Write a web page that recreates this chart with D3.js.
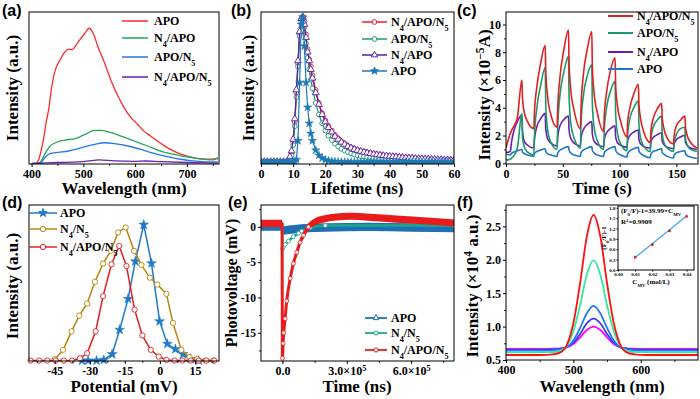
<!DOCTYPE html>
<html><head><meta charset="utf-8">
<script src="https://cdn.jsdelivr.net/npm/d3@7"></script>
<style>body{margin:0;background:#fff}svg{display:block}</style>
</head><body>
<svg id="chart" width="700" height="399"></svg>
<script>
// ---------- (a) PL spectra ----------
const aWlRed = [400,408,414,418,423,428,433,439,446,455,465,471,478,484,493,503,511,519,528,541,554,567,579,592,605,617,630,643,662,681,700,719,738,760];
const aRed   = [2,4,30,90,179,300,400,571,694,767,828,846,841,866,914,963,1000,963,865,743,608,498,412,339,289,240,203,167,118,81,56,39,32,37];
const aWlGreen = [400,415,420,427,436,446,465,484,503,522,535,554,573,598,624,649,675,700,725,751,760];
const aGreen   = [0,5,30,81,130,154,174,184,216,245,245,228,203,167,130,93,69,49,37,27,44];
const aWlBlue = [400,418,423,433,446,471,497,522,541,560,586,611,636,662,687,713,738,760];
const aBlue   = [0,5,32,69,81,93,118,142,154,147,130,105,76,51,32,20,12,12];
const aWlPurple = [400,420,450,490,510,530,560,600,620,650,700,760];
const aPurple   = [0,3,8,12,20,27,20,17,19,14,8,4];
const aTicks = [400,500,600,700];
const aMinor = [450,550,650,750];

// ---------- (b) decay ----------
const bT = [0,1,2,3,4,5,6,7,8,9,9.5,10,10.5,11,11.5,12,12.5,13,13.5,14,14.5,15,15.5,16,
  17,18,19,20,21,22,23,24,25,26,27,28,29,30,31,32,33,34,35,36,37,38,39,40,41,42,43,44,45,46,47,48,49,50,51,52,53,54,55,56,57,58,59,60];
const bRed = [0.005,0.005,0.005,0.005,0.005,0.005,0.005,0.005,0.005,0.03,
  0.06,0.14,0.28,0.48,0.68,0.88,0.98,1.0,0.97,0.88,0.78,0.71,0.66,0.6,
  0.5,0.41,0.34,0.29,0.25,0.22,0.19,0.165,0.145,0.13,0.115,0.105,0.095,0.087,0.08,0.074,0.07,0.066,0.062,0.058,0.054,0.05,0.047,0.044,0.042,0.04,0.038,0.036,0.034,0.032,0.031,0.029,0.028,0.026,0.025,0.024,0.023,0.022,0.021,0.02,0.019,0.018,0.017,0.016];
const bGreen = [0.005,0.005,0.005,0.005,0.005,0.005,0.005,0.005,0.005,0.02,
  0.05,0.12,0.25,0.45,0.66,0.87,0.97,1.0,0.93,0.82,0.72,0.64,0.57,0.51,
  0.41,0.33,0.27,0.22,0.185,0.155,0.13,0.11,0.095,0.082,0.072,0.063,0.056,0.05,0.045,0.041,0.037,0.034,0.031,0.029,0.027,0.025,0.023,0.021,0.02,0.019,0.018,0.017,0.016,0.015,0.014,0.013,0.013,0.012,0.012,0.011,0.011,0.01,0.01,0.01,0.009,0.009,0.009,0.008];
const bPurple = [0.005,0.005,0.005,0.005,0.005,0.005,0.005,0.005,0.005,0.04,
  0.08,0.16,0.3,0.5,0.7,0.9,0.99,1.0,0.95,0.86,0.76,0.7,0.64,0.58,
  0.48,0.4,0.33,0.28,0.24,0.21,0.18,0.16,0.14,0.125,0.11,0.1,0.09,0.083,0.077,0.071,0.066,0.062,0.058,0.054,0.051,0.048,0.045,0.043,0.041,0.039,0.037,0.035,0.033,0.031,0.03,0.028,0.027,0.026,0.025,0.024,0.023,0.022,0.021,0.02,0.019,0.018,0.017,0.016];
const bBlue = [0.003,0.003,0.003,0.003,0.003,0.003,0.003,0.003,0.003,0.003,
  0.003,0.004,0.006,0.02,0.15,0.55,0.95,1.0,0.8,0.55,0.38,0.27,0.2,0.15,
  0.085,0.05,0.03,0.018,0.012,0.008,0.006,0.005,0.004,0.003,0.003,0.003,0.003,0.003,0.003,0.003,0.003,0.003,0.003,0.003,0.003,0.003,0.003,0.003,0.003,0.003,0.003,0.003,0.003,0.003,0.003,0.003,0.003,0.003,0.003,0.003,0.003,0.003,0.003,0.003,0.003,0.003,0.003,0.003];
const bTicks = [0,10,20,30,40,50,60];
const bMinor = [5,15,25,35,45,55];

// ---------- (c) photocurrent ----------
const cT = [0,2,
  4,4.5,6.5,10,14,14.5,16,19,
  24.5,25,27,30.5,34.5,35,36.5,39.5,
  45,45.5,47.5,51,55,55.5,57,60,
  65.5,66,68,71.5,75.5,76,77.5,80.5,
  86,86.5,88.5,92,96,96.5,98,101,
  106.5,107,109,112.5,116.5,117,118.5,121.5,
  127,127.5,129.5,133,137,137.5,139,142,
  147.5,148,150,153.5,157.5,158,159.5,162.5,
  168];
const cRed = [1.1,1.7,
  2.2,2.3,2.6,3.3,6.0,4.7,3.7,3.0,
  2.5,3.6,5.4,7.2,8.5,6.6,4.9,3.5,
  2.6,3.9,6.2,8.2,9.6,7.3,5.3,3.8,
  2.5,3.9,6.3,8.2,9.5,7.0,5.1,3.6,
  2.3,3.4,5.1,6.7,7.6,5.7,4.2,3.0,
  1.9,2.9,4.0,5.0,5.7,4.3,3.2,2.2,
  1.5,2.3,3.2,3.9,4.3,3.3,2.5,1.8,
  1.4,2.0,2.7,3.1,3.4,2.6,2.0,1.5,
  1.1];
const cGreen = [0.25,0.25,
  0.3,0.35,0.5,1.1,3.6,1.9,1.2,0.8,
  0.6,1.9,3.9,5.6,6.9,4.3,2.5,1.5,
  1.0,2.6,4.9,6.6,7.7,4.9,2.9,1.8,
  1.1,2.8,4.8,6.3,7.1,4.3,2.6,1.6,
  1.0,2.4,4.0,5.2,5.9,3.6,2.2,1.4,
  0.9,2.0,3.2,4.0,4.5,2.8,1.8,1.2,
  0.85,1.7,2.6,3.1,3.4,2.2,1.5,1.1,
  0.85,1.5,2.1,2.5,2.6,1.8,1.3,1.0,
  0.85];
const cPurple = [0.8,0.8,
  0.9,1.3,2.2,3.0,3.5,2.4,1.6,1.3,
  1.1,1.7,2.6,3.2,3.6,2.5,1.8,1.45,
  1.25,1.9,2.7,3.15,3.4,2.4,1.8,1.45,
  1.25,1.8,2.4,2.8,3.0,2.1,1.6,1.35,
  1.2,1.7,2.2,2.5,2.7,1.9,1.5,1.3,
  1.15,1.6,2.0,2.25,2.4,1.7,1.4,1.2,
  1.1,1.5,1.85,2.05,2.2,1.6,1.35,1.15,
  1.05,1.4,1.7,1.9,2.0,1.5,1.3,1.1,
  1.0];
const cBlue = [0.65,0.62,
  0.6,0.7,0.8,0.9,1.0,0.8,0.7,0.6,
  0.5,0.7,0.85,0.95,1.05,0.85,0.7,0.6,
  0.5,0.75,0.95,1.1,1.2,0.95,0.75,0.6,
  0.5,0.75,0.95,1.1,1.2,0.95,0.75,0.6,
  0.5,0.75,0.95,1.1,1.2,0.95,0.75,0.6,
  0.45,0.7,0.9,1.05,1.15,0.9,0.7,0.55,
  0.4,0.65,0.85,0.95,1.05,0.8,0.65,0.5,
  0.38,0.6,0.75,0.85,0.9,0.7,0.55,0.45,
  0.35];
const cXTicks = [0,50,100,150];
const cXMinor = [25,75,125];
const cYTicks = [0,2,4,6,8,10];
const cYMinor = [1,3,5,7,9];

// ---------- (d) zeta potential ----------
const dApo = [[-33.3,0],[-30.7,0],[-27.1,0],[-24.0,0.5],[-20.4,4.7],[-17.2,22.7],[-13.6,45.4],[-10.5,73],[-6.9,100],[-3.6,71.6],[-0.1,28.9],[3.2,12.3],[6.6,8.4],[9.9,4.7],[13.2,1.2],[16.6,0]];
const dN4N5 = [[-44.9,1],[-41.4,7.9],[-37.8,21.5],[-34.5,33.1],[-31.1,42],[-27.8,58],[-24.3,71.4],[-21.0,80.7],[-17.9,94.3],[-14.6,98],[-11.0,80.7],[-7.9,70.4],[-4.3,61],[-1.1,56],[2.8,49.1],[5.6,27.7],[9.2,7.9],[12.7,2.5],[16.0,1.2],[19.6,0],[23.0,0]];
const dTri = [[-55.3,0],[-51.7,0],[-48.2,0],[-44.6,0],[-41.1,0],[-37.6,0],[-34.2,1.7],[-31.1,5.4],[-27.5,21.5],[-24.3,47.4],[-20.7,70.9],[-17.4,84.4],[-14.3,69.6],[-10.8,37.5],[-7.5,18.5],[-3.9,7.9],[-0.5,3],[2.8,0.5],[6.3,0],[9.6,0],[13.2,0],[16.6,0],[19.9,0],[23.2,0]];
const dTicks = [-45,-30,-15,0,15];
const dMinor = [-52.5,-37.5,-22.5,-7.5,7.5,22.5];

// ---------- (e) transient photovoltage ----------
const eTRed = [-1e5,-5e4,-2e3,0,3e3,6e3,1.24e4,2e4,3.6e4,5.1e4,6.7e4,8.2e4,9.8e4,1.21e5,1.5e5,1.9e5,2.5e5,3.1e5,4.1e5,5.3e5,6.9e5,8e5];
const eRed  = [0.5,0.5,0.5,-18.6,-16.5,-15,-13,-10.5,-7.3,-5.2,-3.6,-2.2,-1.2,0,0.7,1.1,1.4,1.5,1.35,1.1,0.8,0.55];
const eTBlue = [-1e5,-2e3,0,3e4,1e5,2e5,4e5,6e5,8e5];
const eBlue  = [0.05,0.05,-0.5,-0.4,-0.2,-0.1,0,-0.1,-0.15];
const eTGreen = [-1e5,-2e3,0,5e3,1.24e4,2.8e4,5.1e4,7.5e4,9e4,1.3e5,2e5,8e5];
const eGreen  = [0.3,0.3,-3.1,-2.8,-2.5,-2.0,-1.4,-0.9,-0.6,-0.1,0.2,0.2];
const eXTicks = [0,3e5,6e5];
const eXMinor = [1.5e5,4.5e5,7.5e5];
const eYTicks = [0,-5,-10,-15];
const eYMinor = [2.5,-2.5,-7.5,-12.5,-17.5];

// ---------- (f) fluorescence quenching ----------
const fWl = [400,420,440,460,470,480,490,500,510,520,530,540,550,560,570,580,590,600,620,640,660,685];
const fRed     = [0.575,0.575,0.575,0.578,0.585,0.61,0.72,1.05,1.65,2.35,2.67,2.35,1.65,1.05,0.72,0.61,0.585,0.578,0.575,0.575,0.575,0.575];
const fGreen   = [0.615,0.615,0.615,0.617,0.62,0.635,0.71,0.93,1.32,1.78,1.99,1.78,1.32,0.93,0.71,0.635,0.62,0.617,0.615,0.615,0.615,0.615];
const fBlue    = [0.64,0.64,0.64,0.641,0.645,0.655,0.69,0.79,0.98,1.2,1.31,1.2,0.98,0.79,0.69,0.655,0.645,0.641,0.64,0.64,0.64,0.64];
const fIndigo  = [0.653,0.653,0.653,0.655,0.658,0.665,0.69,0.76,0.89,1.05,1.12,1.05,0.89,0.76,0.69,0.665,0.658,0.655,0.653,0.653,0.653,0.653];
const fMagenta = [0.665,0.665,0.665,0.667,0.67,0.675,0.69,0.74,0.84,0.95,1.0,0.95,0.84,0.74,0.69,0.675,0.67,0.667,0.665,0.665,0.665,0.665];
const fXTicks = [400,500,600];
const fXMinor = [450,550,650];
const fYTicks = [0.5,1.0,1.5,2.0,2.5];
const fYMinor = [0.75,1.25,1.75,2.25,2.75];
const inC = [0.01,0.02,0.03,0.04];
const inF = [0.37,0.73,1.13,1.55];
const inFitC = [0.01,0.04];
const inFitF = [0.36,1.56];
const inXTicks = [0,0.01,0.02,0.03,0.04];
const inYTicks = [0,0.3,0.6,0.9,1.2,1.5,1.8];

// ================= drawing =================
const SERIF = "'Liberation Serif','Times New Roman',Times,serif";
const SANS = "'Liberation Sans',Arial,Helvetica,sans-serif";
const svg = d3.select('#chart');
let clipN = 0;
const LFS = 12;

function addRich(sel, s, fs){
  const re = /([_^])\{([^}]*)\}/g; let last = 0, m;
  while ((m = re.exec(s))) {
    if (m.index > last) sel.append('tspan').text(s.slice(last, m.index));
    sel.append('tspan').attr('baseline-shift', m[1] === '_' ? 'sub' : 'super')
      .attr('font-size', fs * 0.68).text(m[2]);
    last = re.lastIndex;
  }
  if (last < s.length) sel.append('tspan').text(s.slice(last));
}
function styleAxis(a, fs){
  a.select('.domain').remove();
  a.selectAll('line').attr('stroke', '#000').attr('stroke-width', 1);
  a.selectAll('text').attr('font-family', SERIF).attr('font-weight', 'bold')
    .attr('font-size', fs).attr('fill', '#000');
}
function panel(o){
  const x = d3.scaleLinear().domain(o.xd).range([o.l, o.r]);
  const y = d3.scaleLinear().domain(o.yd).range([o.b, o.t]);
  const id = 'clip' + (++clipN);
  svg.append('clipPath').attr('id', id).append('rect')
    .attr('x', o.l).attr('y', o.t).attr('width', o.r - o.l).attr('height', o.b - o.t);
  const g = svg.append('g');
  const data = g.append('g').attr('clip-path', o.noclip ? null : `url(#${id})`);
  const fs = o.fs || 12, ts = o.ts || 3;
  if (o.xt) { const a = g.append('g').attr('transform', `translate(0,${o.b})`)
      .call(d3.axisBottom(x).tickValues(o.xt).tickSize(ts).tickPadding(o.xpad ?? 2).tickFormat(o.xf || (d => String(d))));
    styleAxis(a, fs); if (o.xpost) o.xpost(a); }
  if (o.xm) { const a = g.append('g').attr('transform', `translate(0,${o.b})`)
      .call(d3.axisBottom(x).tickValues(o.xm).tickSize(ts * 0.6).tickFormat(() => '')); styleAxis(a, fs); }
  if (o.yt) { const a = g.append('g').attr('transform', `translate(${o.l},0)`)
      .call(d3.axisLeft(y).tickValues(o.yt).tickSize(ts).tickPadding(o.ypad ?? 2).tickFormat(o.yf || (d => String(d))));
    styleAxis(a, o.yfs || fs); }
  if (o.ym) { const a = g.append('g').attr('transform', `translate(${o.l},0)`)
      .call(d3.axisLeft(y).tickValues(o.ym).tickSize(ts * 0.6).tickFormat(() => '')); styleAxis(a, fs); }
  g.append('rect').attr('x', o.l).attr('y', o.t).attr('width', o.r - o.l).attr('height', o.b - o.t)
    .attr('fill', 'none').attr('stroke', '#000').attr('stroke-width', o.sw || 1);
  const over = g.append('g');
  return { x, y, data, over, g };
}
function line(P, pts, color, w, curve){
  P.data.append('path').datum(pts)
    .attr('d', d3.line().x(d => P.x(d[0])).y(d => P.y(d[1])).curve(curve || d3.curveLinear))
    .attr('fill', 'none').attr('stroke', color).attr('stroke-width', w).attr('stroke-linejoin', 'round');
}
function marks(P, pts, type, color, size, fill, sw){
  P.data.append('g').selectAll('path').data(pts).join('path')
    .attr('transform', d => `translate(${P.x(d[0])},${P.y(d[1])})`)
    .attr('d', d3.symbol().type(type).size(size))
    .attr('fill', fill).attr('stroke', color).attr('stroke-width', sw ?? 0.9);
}
function legend(P, items, o){
  items.forEach((it, i) => {
    const yy = o.ys[i];
    P.over.append('line').attr('x1', o.x1).attr('x2', o.x2).attr('y1', yy).attr('y2', yy)
      .attr('stroke', it.c).attr('stroke-width', o.w || 1.5);
    if (it.m) P.over.append('path').attr('transform', `translate(${(o.x1 + o.x2) / 2},${yy})`)
      .attr('d', d3.symbol().type(it.m).size(o.ms || 22)).attr('fill', it.f || '#fff')
      .attr('stroke', it.c).attr('stroke-width', 1);
    const t = P.over.append('text').attr('x', o.tx).attr('y', yy + 4)
      .attr('font-family', SERIF).attr('font-weight', 'bold').attr('font-size', o.fs || LFS).attr('fill', '#000');
    addRich(t, it.label, o.fs || LFS);
  });
}
function title(x, y, s, fs, rot){
  const t = svg.append('text').attr('text-anchor', 'middle').attr('font-family', SERIF)
    .attr('font-weight', 'bold').attr('font-size', fs).attr('fill', '#000');
  if (rot) t.attr('transform', `translate(${x},${y}) rotate(-90)`); else t.attr('x', x).attr('y', y);
  addRich(t, s, fs);
}
function plabel(x, y, s){
  svg.append('text').attr('x', x).attr('y', y).attr('font-family', SANS).attr('font-weight', 'bold')
    .attr('font-size', 16).attr('fill', '#000').text(s);
}
const zip = (a, b) => a.map((v, i) => [v, b[i]]);

// ---- (a) ----
{
  const P = panel({l:29, t:12, r:219, b:164, xd:[395,762], yd:[-3,1120], xt:aTicks, xm:aMinor});
  line(P, zip(aWlRed, aRed), '#ff2a2a', 1.3, d3.curveMonotoneX);
  line(P, zip(aWlGreen, aGreen), '#22a85a', 1.3, d3.curveMonotoneX);
  line(P, zip(aWlBlue, aBlue), '#2277ee', 1.3, d3.curveMonotoneX);
  line(P, zip(aWlPurple, aPurple), '#6a1fb0', 1.3, d3.curveMonotoneX);
  legend(P, [
    {c:'#ff2a2a', label:'APO'}, {c:'#22a85a', label:'N_{4}/APO'},
    {c:'#2277ee', label:'APO/N_{5}'}, {c:'#6a1fb0', label:'N_{4}/APO/N_{5}'}],
    {x1:122, x2:148, tx:154, ys:[21,38,57,77], w:1.5});
  title(124, 194, 'Wavelength (nm)', 17);
  title(18, 88, 'Intensity (a.u.)', 17, true);
  plabel(2, 16, '(a)');
}
// ---- (b) ----
{
  const P = panel({l:261, t:12, r:454, b:164, xd:[0,60], yd:[-0.01,1.035], xt:bTicks, xm:bMinor});
  const sr = zip(bT, bRed), sg = zip(bT, bGreen), sp = zip(bT, bPurple), sb = zip(bT, bBlue);
  line(P, sr, '#e8202a', 1.2); marks(P, sr, d3.symbolCircle, '#e8202a', 18, '#fff');
  line(P, sg, '#1a9a6a', 1.2); marks(P, sg, d3.symbolCircle, '#1a9a6a', 18, '#fff');
  line(P, sp, '#5a1fa8', 1.2); marks(P, sp, d3.symbolTriangle, '#5a1fa8', 20, '#fff');
  line(P, sb, '#1f78b4', 1.2); marks(P, sb, d3.symbolStar, '#1f78b4', 22, '#1f78b4', 0.5);
  legend(P, [
    {c:'#e8202a', m:d3.symbolCircle, label:'N_{4}/APO/N_{5}'},
    {c:'#1a9a6a', m:d3.symbolCircle, label:'APO/N_{5}'},
    {c:'#5a1fa8', m:d3.symbolTriangle, label:'N_{4}/APO'},
    {c:'#1f78b4', m:d3.symbolStar, f:'#1f78b4', label:'APO'}],
    {x1:362, x2:387, tx:391, ys:[22,39,55,71], w:1.5, ms:18});
  title(357, 194, 'Lifetime (ns)', 17);
  title(254, 88, 'Intensity (a.u.)', 17, true);
  plabel(231, 16, '(b)');
}
// ---- (c) ----
{
  const P = panel({l:506, t:12, r:698, b:164, xd:[0,169], yd:[-0.05,10.9],
    xt:cXTicks, xm:cXMinor, yt:cYTicks, ym:cYMinor});
  line(P, zip(cT, cBlue), '#1f78c8', 1.6, d3.curveMonotoneX);
  line(P, zip(cT, cPurple), '#6a1fb0', 1.6, d3.curveMonotoneX);
  line(P, zip(cT, cGreen), '#1a9a6a', 1.6, d3.curveMonotoneX);
  line(P, zip(cT, cRed), '#e02020', 1.6, d3.curveMonotoneX);
  legend(P, [
    {c:'#e02020', label:'N_{4}/APO/N_{5}'}, {c:'#1a9a6a', label:'APO/N_{5}'},
    {c:'#6a1fb0', label:'N_{4}/APO'}, {c:'#1f78c8', label:'APO'}],
    {x1:608, x2:633, tx:637, ys:[16,33,52,69], w:2});
  title(602, 194, 'Time (s)', 17);
  title(490, 95, 'Intensity (×10^{−5}A)', 17, true);
  plabel(457, 16, '(c)');
}
// ---- (d) ----
{
  const P = panel({l:29, t:205, r:219, b:361, xd:[-56,25.3], yd:[-0.3,114.5], xt:dTicks, xm:dMinor, noclip:true});
  line(P, dApo, '#1f78c8', 1.5); marks(P, dApo, d3.symbolStar, '#1f78c8', 30, '#1f78c8', 0.5);
  line(P, dN4N5, '#b8860b', 1.5); marks(P, dN4N5, d3.symbolCircle, '#b8860b', 22, '#fff');
  line(P, dTri, '#e02020', 1.5); marks(P, dTri, d3.symbolCircle, '#e02020', 22, '#fff');
  legend(P, [
    {c:'#1f78c8', m:d3.symbolStar, f:'#1f78c8', label:'APO'},
    {c:'#b8860b', m:d3.symbolCircle, label:'N_{4}/N_{5}'},
    {c:'#e02020', m:d3.symbolCircle, label:'N_{4}/APO/N_{5}'}],
    {x1:29, x2:57, tx:60, ys:[213,229,247], w:1.5, ms:22});
  title(124, 392, 'Potential (mV)', 17);
  title(18, 286, 'Intensity (a.u.)', 17, true);
  plabel(2, 208, '(d)');
}
// ---- (e) ----
{
  const P = panel({l:261, t:205, r:454, b:361, xd:[-1e5,8e5], yd:[-19,3.1],
    xt:eXTicks, xm:eXMinor, yt:eYTicks, ym:eYMinor, xf:() => '', yf:d => String(d), ypad:2, yfs:11.5,
    xpost:a => a.selectAll('.tick').each(function(d){
      const t = d3.select(this).select('text'); t.text(null);
      if (d === 0) t.text('0.0'); else addRich(t, (d / 1e5).toFixed(1) + '×10^{5}', 12);
    })});
  const band = (xs, ys, hw) => d3.area().x((d, i) => P.x(xs[i])).y0((d, i) => P.y(ys[i] - hw)).y1((d, i) => P.y(ys[i] + hw)).curve(d3.curveMonotoneX);
  P.data.append('path').datum(eBlue).attr('d', band(eTBlue, eBlue, 0.6)).attr('fill', '#1f6fb4');
  const gp = zip(eTGreen, eGreen);
  line(P, gp, '#1aaa8a', 2.5, d3.curveMonotoneX);
  marks(P, gp, d3.symbolCircle, '#1aaa8a', 12, '#fff', 0.8);
  P.data.append('path').datum(eRed).attr('d', band(eTRed, eRed, 0.5)).attr('fill', '#e81c1c');
  const rp = zip(eTRed, eRed);
  line(P, rp, '#e81c1c', 3, d3.curveMonotoneX);
  marks(P, rp.filter(d => d[0] >= 0 && d[0] < 1.3e5), d3.symbolCircle, '#e81c1c', 12, '#fff', 0.8);
  legend(P, [
    {c:'#1f6fb4', m:d3.symbolTriangle, label:'APO'},
    {c:'#1aaa8a', m:d3.symbolCircle, label:'N_{4}/N_{5}'},
    {c:'#e81c1c', m:d3.symbolCircle, label:'N_{4}/APO/N_{5}'}],
    {x1:365, x2:387, tx:391, ys:[318,333,350], w:1.8, ms:14});
  title(357, 392, 'Time (ns)', 17);
  title(237, 283, 'Photovoltage (mV)', 16, true);
  plabel(228, 208, '(e)');
}
// ---- (f) ----
{
  const P = panel({l:506, t:205, r:698, b:360, xd:[400,685], yd:[0.5,2.82],
    xt:fXTicks, xm:fXMinor, yt:fYTicks, ym:fYMinor, yf:d3.format('.1f')});
  line(P, zip(fWl, fMagenta), '#ff00ff', 1.8, d3.curveMonotoneX);
  line(P, zip(fWl, fIndigo), '#3a3aee', 1.8, d3.curveMonotoneX);
  line(P, zip(fWl, fBlue), '#1a7aff', 1.8, d3.curveMonotoneX);
  line(P, zip(fWl, fGreen), '#33e8a0', 1.8, d3.curveMonotoneX);
  line(P, zip(fWl, fRed), '#ff1010', 1.8, d3.curveMonotoneX);
  // inset
  const I = panel({l:618, t:206, r:694, b:270, xd:[0,0.0443], yd:[0,1.85],
    xt:inXTicks, yt:inYTicks, fs:5, ts:1.5, xpad:1, ypad:1,
    xf:d3.format('.2f'), yf:d3.format('.1f')});
  line(I, zip(inFitC, inFitF), '#3fa9f5', 1.3);
  marks(I, zip(inC, inF), d3.symbolSquare, '#e02020', 5, '#e02020', 0.3);
  const eq = I.over.append('text').attr('x', 621).attr('y', 213).attr('font-family', SERIF)
    .attr('font-weight', 'bold').attr('font-size', 7).attr('fill', '#000');
  addRich(eq, '(F_{0}/F)-1=39.99×C_{MV}', 7);
  const r2 = I.over.append('text').attr('x', 621).attr('y', 224).attr('font-family', SERIF)
    .attr('font-weight', 'bold').attr('font-size', 7).attr('fill', '#000');
  addRich(r2, 'R^{2}=0.9909', 7);
  title(651, 284, 'C_{MV} (mol/L)', 7);
  title(606, 238, '(F_{0}/F)-1', 7, true);
  title(602, 392, 'Wavelength (nm)', 17);
  title(478, 286, 'Intensity (×10^{4} a.u.)', 17, true);
  plabel(457, 208, '(f)');
}
</script>
</body></html>
